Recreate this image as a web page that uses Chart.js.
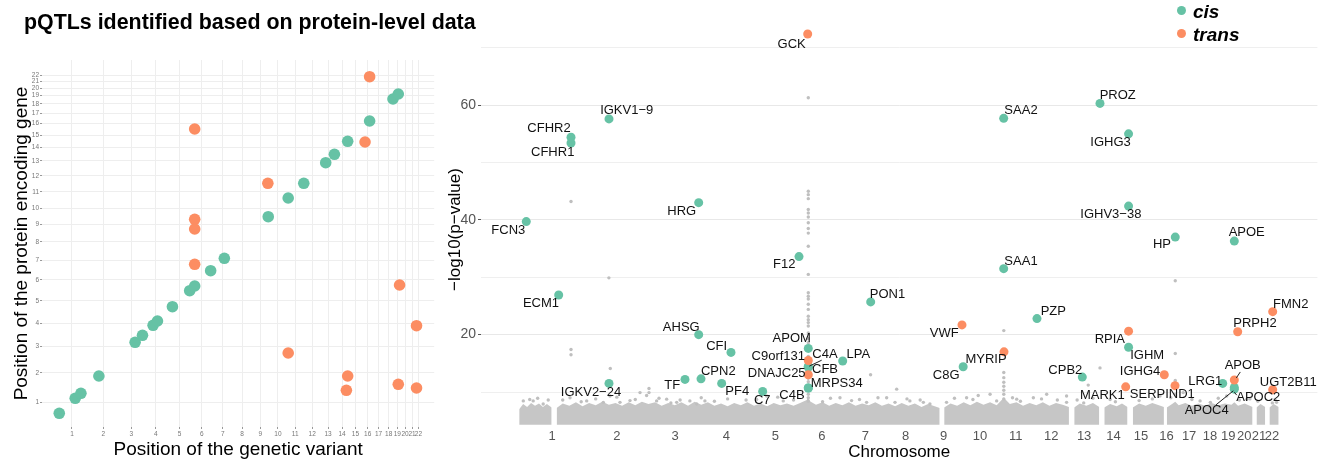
<!DOCTYPE html>
<html><head><meta charset="utf-8">
<script src="https://cdn.jsdelivr.net/npm/chart.js@4.4.1/dist/chart.umd.min.js"></script>
<style>
html,body{margin:0;padding:0;background:#fff;width:1325px;height:461px;overflow:hidden;}
canvas{position:absolute;top:0;}
#c1{left:0;width:440px;height:461px;}
#c2{left:440px;width:885px;height:461px;}
#title{position:absolute;left:24px;top:11.5px;font:bold 21.4px "Liberation Sans",Arial,sans-serif;line-height:1;color:#000;white-space:nowrap;}
.leg{position:absolute;left:1193px;font:italic bold 19px "Liberation Sans",Arial,sans-serif;line-height:1;color:#000;}
.dot{position:absolute;width:9px;height:9px;border-radius:50%;}
</style></head>
<body>
<canvas id="c1" width="440" height="461"></canvas>
<canvas id="c2" width="885" height="461"></canvas>
<div id="title">pQTLs identified based on protein-level data</div>
<span class="dot" style="left:1176.5px;top:5.7px;background:#66C2A5"></span>
<div class="leg" style="top:1.5px">cis</div>
<span class="dot" style="left:1176.5px;top:28.8px;background:#FC8D62"></span>
<div class="leg" style="top:24.6px">trans</div>
<script>
// ---------- chromosome axis (Mb) ----------
const chrLen = [249,243,198,191,181,171,159,146,141,136,135,134,115,107,103,90,81,78,59,63,48,51];
const chrLabels = ['1','2','3','4','5','6','7','8','9','10','11','12','13','14','15','16','17','18','19','20','21','22'];

// ---------- left panel: genome positions (cumulative Mb) ----------
const cisVariantPos = [24.4,150.2,195.0,336.5,621.9,680.0,763.4,797.9,915.9,1051.9,1091.2,1217.0,1324.7,1670.6,1827.8,1950.5,2123.4,2191.8,2296.4,2469.3,2653.3,2695.0];
const cisGenePos    = [32.6,157.9,199.7,344.2,625.8,684.3,767.9,803.8,923.3,1057.0,1096.3,1224.1,1327.7,1675.3,1831.6,1954.4,2126.5,2196.7,2305.3,2474.9,2658.7,2700.5];
const transVariantPos = [2469.3,1091.2,2433.2,1667.5,1091.2,1091.2,1091.2,2705.2,2838.8,1827.8,2296.4,2286.2,2695.0,2838.8];
const transGenePos    = [2845.1,2408.1,2299.5,1954.4,1653.6,1572.5,1277.6,1104.6,764.5,536.4,344.2,224.8,274.9,244.0];

// ---------- right panel: labelled pQTLs ----------
const geneNames = ['GCK','IGKV1\u22129','CFHR2','CFHR1','HRG','FCN3','PROZ','SAA2','IGHG3','IGHV3\u221238','HP','APOE','F12','ECM1','PON1','AHSG','CFI','APOM','C4A','CFB','C9orf131','DNAJC25','MRPS34','C4B','LPA','CPN2','TF','PF4','C7','IGKV2\u221224','SAA1','FMN2','PZP','VWF','PRPH2','RPIA','IGHM','MYRIP','C8G','CPB2','IGHG4','MARK1','SERPIND1','LRG1','APOB','APOC4','APOC2','UGT2B11'];
const variantPos = [1093.6,340.4,196.4,196.4,680.4,26.9,2201.7,1836.6,2310,2310,2487,2710.8,1060.7,149.7,1332.4,680.4,802.9,1095.9,1095.9,1095.9,1095.9,1095.9,1095.9,1095.9,1226.3,689.2,628.5,767.6,923,340.4,1836.6,2856.3,1962.8,1678.5,2723.6,2310,2310,1837.8,1683,2134.6,2445.4,2299.1,2486,2666.8,2710.8,2710.8,2710.8,2856.3];
const negLog10P = [72.4,57.6,54.4,53.4,43.0,39.7,60.3,57.7,55.0,42.4,37.0,36.3,33.6,26.9,25.7,20.0,16.9,17.6,14.5,14.3,15.5,13.0,10.7,10.7,15.4,12.3,12.2,11.5,10.1,11.5,31.5,24.0,22.8,21.7,20.5,20.6,17.8,17.0,14.4,12.6,13.0,10.9,11.1,11.5,12.1,10.8,10.5,10.4];
const effectType = ['trans','cis','cis','cis','cis','cis','cis','cis','cis','cis','cis','cis','cis','cis','cis','cis','cis','cis','cis','cis','trans','trans','cis','cis','cis','cis','cis','cis','cis','cis','cis','trans','cis','trans','trans','trans','cis','trans','cis','cis','trans','trans','trans','cis','trans','cis','cis','trans'];

// ---------- right panel: other (grey) associations ----------
const bgPos = [1095.9,1095.9,1095.9,1095.9,1095.9,1095.9,1095.9,1095.9,1095.9,1095.9,1095.9,1095.9,1095.9,1095.9,1095.9,1095.9,1095.9,1095.9,1095.9,1095.9,1095.9,1095.9,1095.9,1095.9,1095.9,1095.9,1095.9,1095.9,1095.9,1095.9,1095.9,1095.9,1095.9,
  196.4,196.4,196.4,340,345.3,1837,1837,1837,1837,1837,1837,1837,1837,2487,2487,2487,2487,2487,1332,2201.7,2157,
  15.5,53,91,192.6,255.9,318.8,344.2,382,458,483,492,492,521,559,597,647,673,704,938,1001,1216,1317,1393,1431,1424.6,1481,1532,1557,1696,1740,1785,1810,1886,1949,1999.6,2075,2075,2429,2517,2581,2682,2758,2871,
  110,235,420,575,740,860,1150,1260,1620,1900,2040,2140,2260,2350,2620,2800,2855,
  40,70,165,290,370,440,530,610,690,790,900,980,1040,1180,1290,1360,1470,1520,1650,1720,1870,1980,2115,2175,2240,2400,2470,2550,2650,2730,2770,2865];
const bgLogP = [61.3,45.0,44.4,43.7,41.8,41.2,40.5,39.5,38.5,37.7,35.4,30.5,27.3,26.7,26.2,25.3,24.4,23.2,22.6,22.1,21.5,20.3,19.3,18.6,16.2,13.8,12.4,11.8,11.0,10.3,9.6,9.0,8.4,
  43.2,17.4,16.5,29.9,14.1,20.7,13.4,12.5,11.7,11.0,10.3,9.6,8.8,29.4,16.7,12.0,10.8,9.6,13.0,14.2,11.2,
  8.45,8.45,7.9,9.0,8.45,8.2,9.3,8.2,9.9,9.4,10.6,9.9,8.45,8.75,8.2,8.45,7.9,8.45,9.3,8.45,9.0,8.2,9.0,10.5,8.2,8.45,8.2,7.9,9.0,9.4,9.6,8.45,8.75,9.0,9.6,9.3,8.2,9.3,9.9,8.45,9.3,8.75,8.2,
  8.6,8.3,8.5,8.1,8.4,8.6,8.3,8.5,8.2,8.4,8.6,8.1,8.3,8.5,8.2,8.4,8.1,
  8.7,8.9,8.6,8.8,9.1,8.7,8.9,8.6,9.0,8.8,8.7,9.1,8.6,8.9,8.7,9.0,8.8,8.6,8.9,8.7,9.0,8.8,8.6,8.9,8.7,8.8,9.0,8.7,8.9,8.6,8.8,8.7];

// dense cloud of sub-threshold associations: upper edge of the grey band (null = no markers)
const bandPos = [0,15,30,45,60,75,90,105,123,133,
  142,165,190,215,240,265,290,315,340,365,390,415,440,465,490,515,540,565,590,615,640,665,690,715,740,765,790,815,840,865,890,915,940,965,990,1015,1040,1065,1090,1096,1102,1125,1150,1175,1200,1225,1250,1275,1300,1325,1350,1375,1400,1425,1450,1475,1500,1525,1550,1575,1594,1602,
  1611,1635,1660,1685,1710,1735,1760,1785,1810,1837,1860,1885,1910,1935,1960,1985,2010,2035,2060,2084,2094,
  2104,2125,2150,2175,2199,2208,
  2218,2240,2265,2285,2306,2316,
  2326,2350,2375,2400,2425,2444,2450,
  2455,2475,2487,2500,2525,2550,2575,2600,2625,2650,2675,2700,2711,2725,2750,2780,2788,
  2795,2810,2828,2836,
  2844,2860,2879];
const bandTop = [7.0,7.9,7.4,8.1,7.6,8.0,7.4,7.9,7.3,null,
  7.2,8.0,7.6,8.2,7.5,8.1,7.7,8.3,7.8,8.1,7.6,8.2,7.7,8.3,7.9,8.2,7.6,8.1,7.7,8.2,7.6,8.3,7.8,8.2,7.6,8.0,7.5,8.1,7.7,8.2,7.6,8.0,7.5,8.1,7.7,8.0,7.6,8.1,8.6,9.2,8.4,7.8,8.2,7.6,8.1,7.7,8.2,7.6,8.0,7.7,8.2,7.6,8.0,7.5,8.1,7.6,8.0,7.4,7.9,7.5,7.2,null,
  7.3,8.0,7.6,8.2,7.7,8.3,7.8,8.2,7.7,9.0,7.9,8.2,7.6,8.1,7.7,8.2,7.6,8.1,7.8,7.4,null,
  7.3,8.0,7.6,8.1,7.4,null,
  7.3,7.9,7.5,8.0,7.4,null,
  7.3,8.0,7.6,8.1,7.7,7.4,null,
  7.3,7.9,8.3,7.7,8.1,7.6,8.0,7.6,8.1,7.7,8.0,7.8,8.2,7.6,8.0,7.4,null,
  7.3,7.9,7.4,null,
  7.3,7.9,7.4];

const yGridValues = [10,20,30,40,50,60,70];
const yTickLabels = [20,40,60];

// ---------- styling / layout ----------
const FONT = '"Liberation Sans", Arial, sans-serif';
const CIS = '#66C2A5', TRANS = '#FC8D62', GREY = '#bfbfbf';
const labelOffset = {
  'GCK':[-16,10],'IGKV1\u22129':[17.7,-8.6],'CFHR2':[-22,-8.4],'CFHR1':[-18.3,9],'HRG':[-17,8.7],'FCN3':[-18,8.7],
  'PROZ':[17.7,-7.6],'SAA2':[17.3,-7.7],'IGHG3':[-18,8.7],'IGHV3\u221238':[-17.7,8.3],'HP':[-13.3,7.3],'APOE':[12.4,-8.4],
  'F12':[-14.7,7.7],'ECM1':[-17.7,8.3],'PON1':[16.8,-7.8],'AHSG':[-17.4,-7.3],'CFI':[-14.3,-6.3],'APOM':[-16.6,-9.7],
  'C4A':[16.7,-11.7],'CFB':[16.7,2],'C9orf131':[-30,-4],'DNAJC25':[-31.6,-1.4],'MRPS34':[28.4,-4.4],'C4B':[-16.3,7.3],
  'LPA':[15.6,-6.3],'CPN2':[17.3,-7.4],'TF':[-12.7,5.7],'PF4':[15.6,8.4],'C7':[-0.4,9.4],'IGKV2\u221224':[-18,8.7],
  'SAA1':[17.3,-7.6],'FMN2':[18,-7.3],'PZP':[16.3,-7.6],'VWF':[-17.7,8.3],'PRPH2':[17.3,-8],'RPIA':[-18.7,8.3],
  'IGHM':[18.6,8.3],'MYRIP':[-18,8],'C8G':[-17,8.3],'CPB2':[-17,-6.7],'IGHG4':[-24.3,-3.6],'MARK1':[-23.4,8.3],
  'SERPIND1':[-12.7,9],'LRG1':[-17.4,-2.3],'APOB':[8.4,-14.3],'APOC4':[-27.6,23.4],'APOC2':[24,8.3],'UGT2B11':[15.6,-7.6]
};
const connectors = {'C4A':[1,0,13.4,-6],'APOB':[2,-2,6,-8],'APOC4':[-1,3.4,-18.3,17.4],'APOC2':[0,3,2.4,6]};

const chrMid = []; { let acc = 0; chrLen.forEach(l => { chrMid.push(acc + l/2); acc += l; }); }

function pts(xs, ys){ return xs.map((x,i)=>({x:x, y:ys[i]})); }

// ---------- left chart ----------
new Chart(document.getElementById('c1'), {
  type:'scatter',
  data:{datasets:[
    {label:'trans', data:pts(transVariantPos, transGenePos), pointBackgroundColor:TRANS, backgroundColor:TRANS, pointBorderWidth:0, borderWidth:0, pointRadius:5.8, order:0, clip:false},
    {label:'cis', data:pts(cisVariantPos, cisGenePos), pointBackgroundColor:CIS, backgroundColor:CIS, pointBorderWidth:0, borderWidth:0, pointRadius:5.8, order:1, clip:false}
  ]},
  options:{
    responsive:false, animation:false, devicePixelRatio:1,
    layout:{padding:{left:0,right:5,top:60,bottom:0}},
    plugins:{legend:{display:false}, tooltip:{enabled:false}},
    scales:{
      x:{type:'linear', min:-111.6, max:2978,
        afterFit(s){ s.height = 34; },
        afterBuildTicks(s){ s.ticks = chrMid.map(v=>({value:v})); },
        ticks:{autoSkip:false, maxRotation:0, minRotation:0, padding:1.4, font:{size:6.5,family:FONT}, color:'#777', callback:(v,i)=>chrLabels[i]},
        grid:{color:'#eeeeee', lineWidth:1, tickLength:2, tickColor:'#999'}, border:{display:false},
        title:{display:true, text:'Position of the genetic variant', color:'#000', font:{size:19,family:FONT,lineHeight:1}, padding:{top:0,bottom:1.5}}
      },
      y:{type:'linear', min:-81.9, max:2984.6,
        afterFit(s){ s.width = 42; },
        afterBuildTicks(s){ s.ticks = chrMid.map(v=>({value:v})); },
        ticks:{autoSkip:false, padding:1, font:{size:6.5,family:FONT}, color:'#777', callback:(v,i)=>chrLabels[i]},
        grid:{color:'#eeeeee', lineWidth:1, tickLength:2, tickColor:'#999'}, border:{display:false},
        title:{display:true, text:'Position of the protein encoding gene', color:'#000', font:{size:19,family:FONT,lineHeight:1}, padding:{top:12.2,bottom:0}}
      }
    }
  }
});

// ---------- right chart ----------
const cisIdx = [], transIdx = [];
effectType.forEach((t,i)=> (t==='cis'?cisIdx:transIdx).push(i));
const labelPlugin = {
  id:'geneLabels',
  afterDatasetsDraw(chart){
    const {ctx, scales:{x, y}} = chart;
    ctx.save();
    ctx.font = '13px ' + FONT;
    ctx.fillStyle = '#111';
    ctx.textAlign = 'center';
    ctx.textBaseline = 'middle';
    ctx.strokeStyle = '#222';
    ctx.lineWidth = 1;
    geneNames.forEach((g,i)=>{
      const px = x.getPixelForValue(variantPos[i]);
      const py = y.getPixelForValue(negLog10P[i]);
      const c = connectors[g];
      if (c){ ctx.beginPath(); ctx.moveTo(px+c[0], py+c[1]); ctx.lineTo(px+c[2], py+c[3]); ctx.stroke(); }
      const o = labelOffset[g] || [0,-10];
      ctx.fillText(g, px+o[0], py+o[1]);
    });
    ctx.restore();
  }
};
const yTitlePlugin = {
  id:'yTitle',
  afterDraw(chart){
    const ctx = chart.ctx;
    ctx.save();
    ctx.translate(15, 229.5);
    ctx.rotate(-Math.PI/2);
    ctx.font = '17px ' + FONT;
    ctx.fillStyle = '#000';
    ctx.textAlign = 'center';
    ctx.textBaseline = 'middle';
    ctx.fillText('\u2212log10(p\u2212value)', 0, 0);
    ctx.restore();
  }
};

new Chart(document.getElementById('c2'), {
  type:'scatter',
  data:{datasets:[
    {label:'trans', data:transIdx.map(i=>({x:variantPos[i], y:negLog10P[i]})), pointBackgroundColor:TRANS, backgroundColor:TRANS, pointBorderWidth:0, borderWidth:0, pointRadius:4.5, order:0, clip:false},
    {label:'cis', data:cisIdx.map(i=>({x:variantPos[i], y:negLog10P[i]})), pointBackgroundColor:CIS, backgroundColor:CIS, pointBorderWidth:0, borderWidth:0, pointRadius:4.5, order:1, clip:false},
    {label:'other', data:pts(bgPos, bgLogP), pointBackgroundColor:GREY, backgroundColor:GREY, pointBorderWidth:0, borderWidth:0, pointRadius:1.7, order:2},
    {type:'line', label:'band', data:pts(bandPos, bandTop), showLine:true, spanGaps:false, tension:0, fill:{value:4.3}, backgroundColor:'#c6c6c6', borderColor:'rgba(0,0,0,0)', borderWidth:0, pointRadius:0, order:3}
  ]},
  options:{
    responsive:false, animation:false, devicePixelRatio:1,
    layout:{padding:{left:0,right:7.6,top:14.5,bottom:0}},
    plugins:{legend:{display:false}, tooltip:{enabled:false}},
    scales:{
      x:{type:'linear', min:-144.8, max:3025.8,
        afterFit(s){ s.height = 34; },
        afterBuildTicks(s){ s.ticks = chrMid.map(v=>({value:v})); },
        ticks:{autoSkip:false, maxRotation:0, minRotation:0, padding:1.5, font:{size:13,family:FONT}, color:'#555', callback:(v,i)=>chrLabels[i]},
        grid:{display:false, drawTicks:false}, border:{display:false},
        title:{display:true, text:'Chromosome', color:'#000', font:{size:17,family:FONT,lineHeight:1}, padding:{top:0,bottom:0}}
      },
      y:{type:'linear', min:3.9, max:75.8,
        afterFit(s){ s.width = 41; },
        afterBuildTicks(s){ s.ticks = yGridValues.map(v=>({value:v})); },
        ticks:{padding:2, font:{size:14,family:FONT}, color:'#555', callback:(v)=> yTickLabels.includes(v) ? String(v) : ''},
        grid:{color:(c)=> (c.tick && yTickLabels.includes(c.tick.value)) ? '#e8e8e8' : '#efefef', lineWidth:1, tickLength:3,
              tickColor:(c)=> (c.tick && yTickLabels.includes(c.tick.value)) ? '#555' : 'rgba(0,0,0,0)'},
        border:{display:false},
        title:{display:false}
      }
    }
  },
  plugins:[labelPlugin, yTitlePlugin]
});
</script>
</body></html>
